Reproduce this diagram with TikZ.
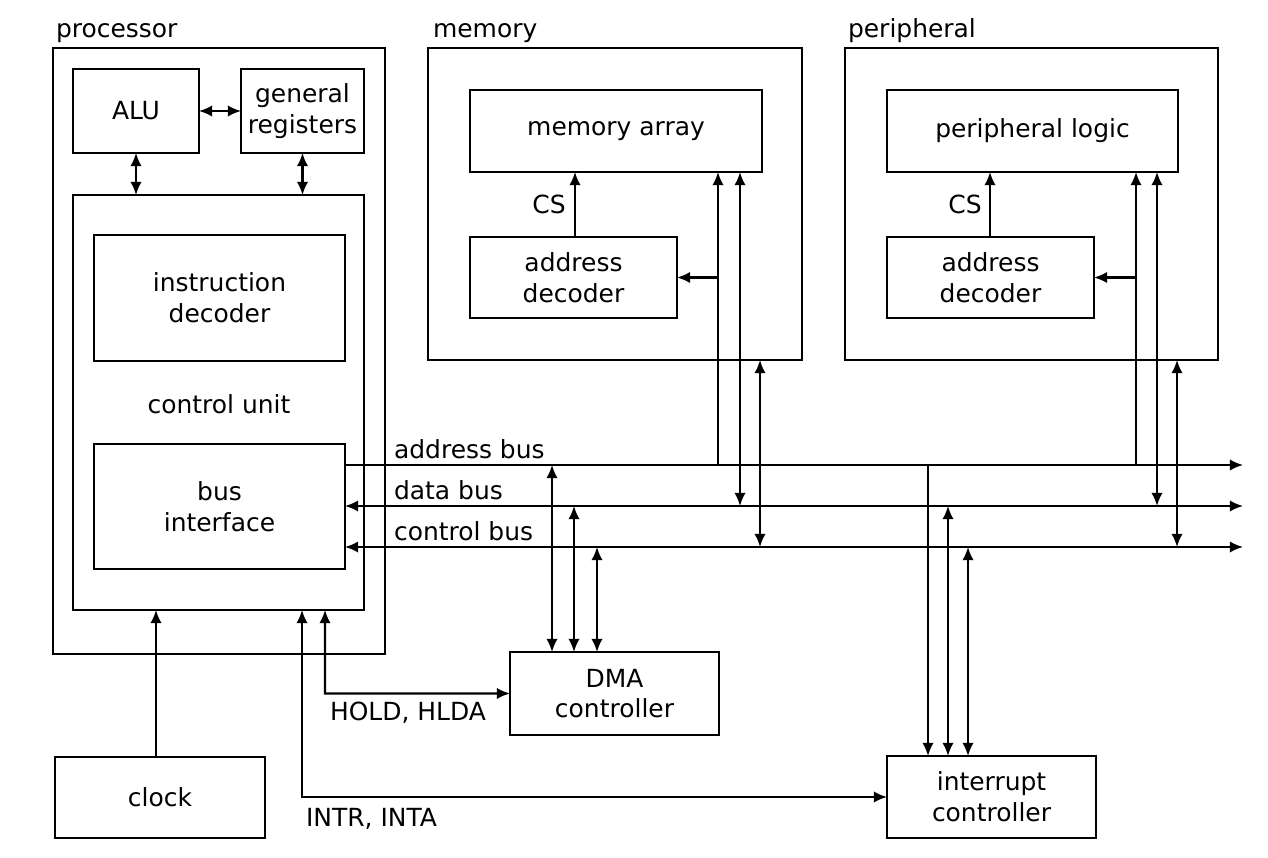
\documentclass[tikz,border=0pt]{standalone}
\usepackage{fontspec}
\setmainfont{DejaVu Sans}
\usetikzlibrary{arrows.meta,fit}
\begin{document}
\begin{tikzpicture}[x=0.02cm,y=-0.02cm,
  line width=1.2pt,
  font=\fontsize{14.2}{17.5}\selectfont,
  box/.style={draw,inner sep=0pt,outer sep=0pt},
  txt/.style={align=center,inner sep=0pt},
  lbl/.style={inner sep=0pt,anchor=base west},
  ar/.style={-{Latex[length=7.5pt,width=6.5pt]}},
  dar/.style={{Latex[length=7.5pt,width=6.5pt]}-{Latex[length=7.5pt,width=6.5pt]}}]
\useasboundingbox (0,0) rectangle (1268,858);
% processor
\node[box,fit={(53,48) (385,654)}] (proc) {};
\node[lbl] (proclbl) at (55,38) {processor};
\node[box,fit={(73,69) (199,153)}] (alu) {};
\node[txt] (alut) at (alu.center) {ALU};
\node[box,fit={(241,69) (364,153)}] (gr) {};
\node[txt] (grt) at (gr.center) {general\\registers};
\node[box,fit={(73,195) (364,610)}] (cu) {};
\node[box,fit={(94,235) (345,361)}] (idec) {};
\node[txt] (idect) at (idec.center) {instruction\\decoder};
\node[txt] (cutext) at (219,404) {control unit};
\node[box,fit={(94,444) (345,569)}] (bi) {};
\node[txt] (bit) at (bi.center) {bus\\interface};
\node[box,fit={(55,757) (265,838)}] (clock) {};
\node[txt] (clockt) at (clock.center) {clock};
% memory
\node[box,fit={(428,48) (802,360)}] (mem) {};
\node[lbl] (memlbl) at (432,38) {memory};
\node[box,fit={(470,90) (762,172)}] (marr) {};
\node[txt] (marrt) at (marr.center) {memory array};
\node[box,fit={(470,237) (677,318)}] (mdec) {};
\node[txt] (mdect) at (mdec.center) {address\\decoder};
% peripheral
\node[box,fit={(845,48) (1218,360)}] (per) {};
\node[lbl] (perlbl) at (847,38) {peripheral};
\node[box,fit={(887,90) (1178,172)}] (plog) {};
\node[txt] (plogt) at (plog.center) {peripheral logic};
\node[box,fit={(887,237) (1094,318)}] (pdec) {};
\node[txt] (pdect) at (pdec.center) {address\\decoder};
% DMA and interrupt
\node[box,fit={(510,652) (719,735)}] (dma) {};
\node[txt] (dmat) at (dma.center) {DMA\\controller};
\node[box,fit={(887,756) (1096,838)}] (intc) {};
\node[txt] (intct) at (intc.center) {interrupt\\controller};
% bus ends
\coordinate (abR) at (1243,465);
\coordinate (dbR) at (1243,506);
\coordinate (cbR) at (1243,547);
\draw[ar] (bi.east |- abR) -- (abR);
\draw[dar] (bi.east |- dbR) -- (dbR);
\draw[dar] (bi.east |- cbR) -- (cbR);
\node[lbl] (ablbl) at (393,458) {address bus};
\node[lbl] (dblbl) at (393,499) {data bus};
\node[lbl] (cblbl) at (393,540) {control bus};
% processor internal
\draw[dar] (alu.east) -- (gr.west |- alu.east);
\draw[dar] (alu.south) -- (alu.south |- cu.north);
\draw[dar] (gr.south) -- (gr.south |- cu.north);
\draw[ar] (clock.north -| 156,0) -- (cu.south -| 156,0);
% memory taps
\coordinate (mA) at (718,465);
\coordinate (mD) at (740,506);
\coordinate (mC) at (760,547);
\draw[ar] (mA) -- (mA |- marr.south);
\draw[ar] (mA |- mdec.east) -- (mdec.east);
\draw[dar] (mD |- marr.south) -- (mD);
\draw[dar] (mC |- mem.south) -- (mC);
\draw[ar] (mdec.north -| 575,0) -- (marr.south -| 575,0);
\node (mcs) at (549,204) {CS};
% peripheral taps
\coordinate (pA) at (1136,465);
\coordinate (pD) at (1157,506);
\coordinate (pC) at (1177,547);
\draw[ar] (pA) -- (pA |- plog.south);
\draw[ar] (pA |- pdec.east) -- (pdec.east);
\draw[dar] (pD |- plog.south) -- (pD);
\draw[dar] (pC |- per.south) -- (pC);
\draw[ar] (pdec.north -| 990,0) -- (plog.south -| 990,0);
\node (pcs) at (965,204) {CS};
% DMA taps
\coordinate (dA) at (552,465);
\coordinate (dD) at (574,506);
\coordinate (dC) at (597,547);
\draw[dar] (dA) -- (dA |- dma.north);
\draw[dar] (dD) -- (dD |- dma.north);
\draw[dar] (dC) -- (dC |- dma.north);
% interrupt taps
\coordinate (iA) at (928,465);
\coordinate (iD) at (948,506);
\coordinate (iC) at (968,547);
\draw[ar] (iA) -- (iA |- intc.north);
\draw[dar] (iD) -- (iD |- intc.north);
\draw[dar] (iC) -- (iC |- intc.north);
% HOLD / INTR
\coordinate (hold) at (325,693.5);
\draw[dar] (hold |- cu.south) -- (hold) -- (dma.west);
\node[lbl] (holdlbl) at (329,720) {HOLD, HLDA};
\coordinate (intr) at (302,797);
\draw[dar] (intr |- cu.south) -- (intr) -- (intc.west);
\node[lbl] (intrlbl) at (305,826) {INTR, INTA};
\end{tikzpicture}
\end{document}
